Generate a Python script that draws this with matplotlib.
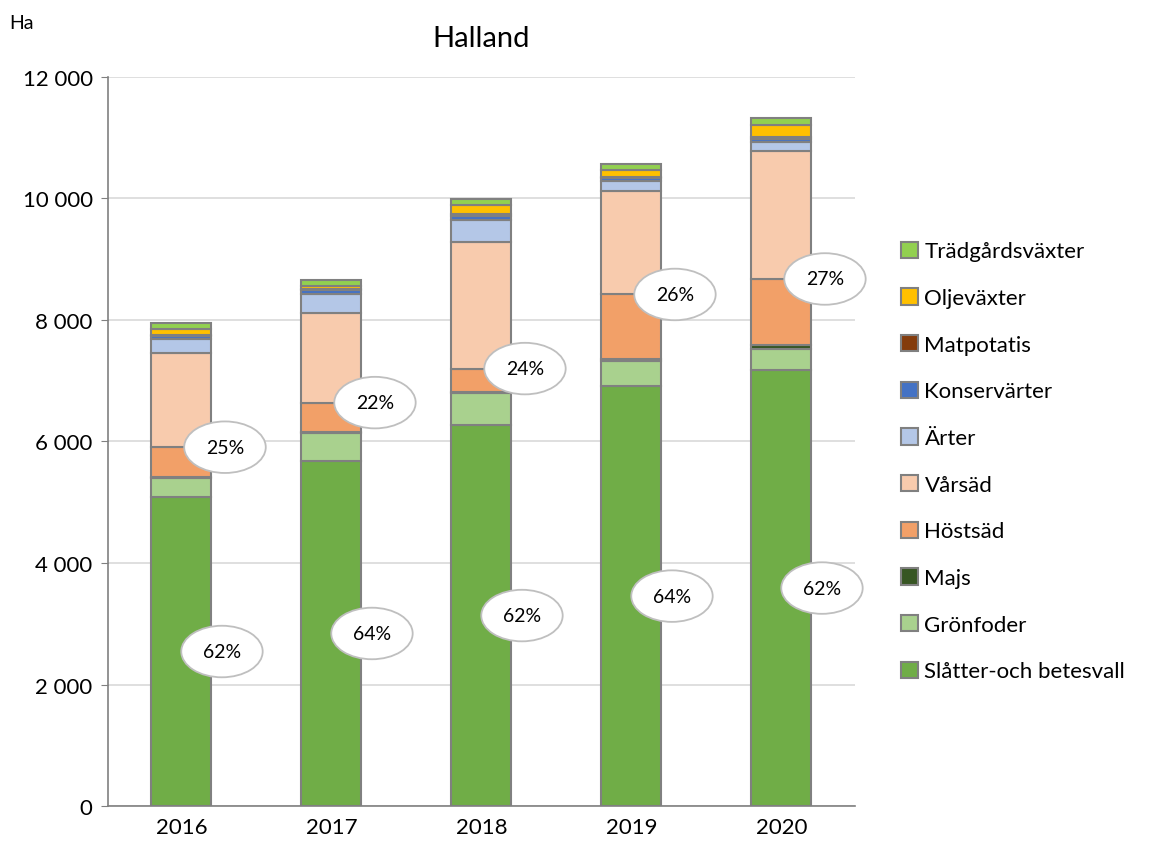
import numpy as np
import matplotlib.pyplot as plt

plt.rcParams['font.family'] = ['Lato', 'DejaVu Sans']

# Data (hectares)
years = ['2016', '2017', '2018', '2019', '2020']
crops = ['Slåtter-och betesvall', 'Grönfoder', 'Majs', 'Höstsäd', 'Vårsäd',
         'Ärter', 'Konservärter', 'Matpotatis', 'Oljeväxter', 'Trädgårdsväxter']
slatter = [5086, 5680, 6270, 6910, 7175]
gronfoder = [310, 460, 530, 410, 350]
majs = [20, 20, 20, 40, 60]
hostsad = [490, 480, 380, 1060, 1090]
varsad = [1550, 1480, 2080, 1710, 2100]
arter = [230, 310, 370, 150, 160]
konservarter = [50, 60, 60, 60, 50]
matpotatis = [20, 20, 30, 20, 30]
oljevaxter = [100, 50, 150, 110, 200]
tradgard = [100, 90, 100, 90, 110]
pct_vall = ['62%', '64%', '62%', '64%', '62%']
pct_sad = ['25%', '22%', '24%', '26%', '27%']

colors = ['#70ad47', '#a9d18e', '#375623', '#f2a068', '#f8cbad',
          '#b4c7e7', '#4472c4', '#843c0c', '#ffc000', '#92d050']

series = [slatter, gronfoder, majs, hostsad, varsad, arter,
          konservarter, matpotatis, oljevaxter, tradgard]

fig = plt.figure(figsize=(11.56, 8.53), dpi=100)
ax = fig.add_axes([0.0934, 0.0539, 0.6462, 0.8547])

x = np.arange(len(years))
bottom = np.zeros(len(years))
handles = []
for name, vals, c in zip(crops, series, colors):
    b = ax.bar(x, vals, 0.4, bottom=bottom, color=c, edgecolor='#808080',
               linewidth=1.5, label=name, zorder=3)
    handles.append(b)
    bottom += np.array(vals)

# Percentage callouts
box = dict(boxstyle='ellipse,pad=0.5', fc='white', ec='#bfbfbf', lw=1.3)
for i in range(len(years)):
    y1 = slatter[i] / 2
    ax.text(i + 0.27, y1, pct_vall[i], ha='center', va='center', fontsize=14,
            bbox=box, zorder=5)
    y2 = slatter[i] + gronfoder[i] + majs[i] + hostsad[i]
    ax.text(i + 0.29, y2, pct_sad[i], ha='center', va='center', fontsize=14,
            bbox=box, zorder=5)

ax.set_xlim(-0.49, 4.49)
ax.set_ylim(0, 12000)
ax.set_yticks(range(0, 12001, 2000))
ax.set_yticklabels([f'{v:,}'.replace(',', ' ') for v in range(0, 12001, 2000)])
ax.set_xticks(x)
ax.set_xticklabels(years)
ax.tick_params(axis='both', labelsize=16, colors='black')
ax.tick_params(axis='x', length=0, pad=8)
ax.tick_params(axis='y', length=5, color='#808080', pad=6)
ax.grid(axis='y', color='#d9d9d9', linewidth=1.2, zorder=0)
for s in ['top', 'right']:
    ax.spines[s].set_visible(False)
for s in ['left', 'bottom']:
    ax.spines[s].set_color('#808080')
    ax.spines[s].set_linewidth(1.2)

ax.set_title('Halland', fontsize=21, pad=22)
fig.text(0.008, 0.972, 'Ha', fontsize=14, va='center')

leg = ax.legend(handles[::-1], crops[::-1], loc='center left',
                bbox_to_anchor=(1.035, 0.4726), frameon=False, fontsize=16,
                labelspacing=1.2, handlelength=0.75, handleheight=0.75,
                handletextpad=0.3)

fig.savefig('out.png', dpi=100)
